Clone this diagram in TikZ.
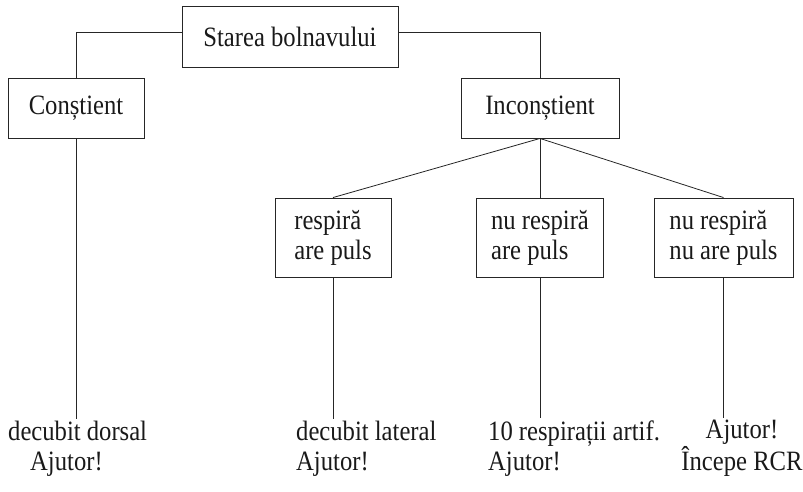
\documentclass[tikz,border=0pt]{standalone}
\usepackage{fontspec}
\setmainfont[FakeStretch=0.88]{Liberation Serif}
\begin{document}
\begin{tikzpicture}[x=1pt,y=-1pt,
  every node/.style={font=\fontsize{28}{30}\selectfont, text=black!90},
  box/.style={draw=black!85, line width=0.9pt, inner sep=0pt, align=left},
  lbl/.style={inner sep=0pt, outer ysep=2pt},
  conn/.style={draw=black!85, line width=0.8pt}]
\useasboundingbox (0,0) rectangle (803,492);
\node[box, minimum width=216pt, minimum height=61pt] (top) at (290,36.5) {Starea bolnavului};
\node[box, minimum width=136pt, minimum height=60pt] (con) at (76,108) {Conștient};
\node[box, minimum width=158pt, minimum height=60pt] (incon) at (540,108) {Inconștient};
\node[box, minimum width=116pt, minimum height=79pt] (b1) at (333,237.5) {respiră\\are puls};
\node[box, minimum width=127pt, minimum height=79pt] (b2) at (540,237.5) {nu respiră\\are puls};
\node[box, minimum width=139pt, minimum height=79pt] (b3) at (723.5,237.5) {nu respiră\\nu are puls};
\node[lbl, align=left, anchor=base west] (t1) at (8,470) {decubit dorsal\\\hspace*{22pt}Ajutor!};
\node[lbl, align=left, anchor=base west] (t2) at (296,470) {decubit lateral\\Ajutor!};
\node[lbl, align=left, anchor=base west] (t3) at (488,470) {10 respirații artif.\\Ajutor!};
\node[lbl, align=center, anchor=base] (t4) at (742,470) {Ajutor!\\Începe RCR};
\draw[conn] ([yshift=4.5pt]top.west) -| (con.north);
\draw[conn] ([yshift=4.5pt]top.east) -| (incon.north);
\draw[conn] (incon.south) -- (b1.north);
\draw[conn] (incon.south) -- (b2.north);
\draw[conn] (incon.south) -- (b3.north);
\draw[conn] (con.south) -- (con.south |- t1.north);
\draw[conn] (b1.south) -- (b1.south |- t2.north);
\draw[conn] (b2.south) -- (b2.south |- t3.north);
\draw[conn] (b3.south) -- (b3.south |- t4.north);
\end{tikzpicture}
\end{document}
